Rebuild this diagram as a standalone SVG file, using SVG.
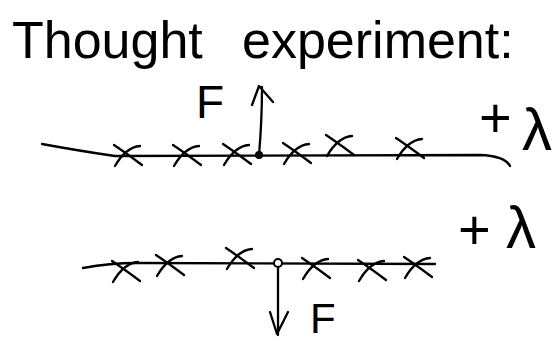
<svg xmlns="http://www.w3.org/2000/svg" xmlns:xlink="http://www.w3.org/1999/xlink" width="558" height="341" viewBox="0 0 558 341">
<style>
.ink{fill:none;stroke:#000;stroke-width:2.3;stroke-linecap:round;stroke-linejoin:round}
.t{font-family:"Liberation Sans","DejaVu Sans",sans-serif;fill:#000}
</style>
<defs>
<path id="cross" class="ink" d="M-14,-10 Q-2,-2 14,10 M12,-9 Q-2,-8 -13,11"/>
</defs>
<rect width="558" height="341" fill="#fff"/>
<g id="title">
<text class="t" font-size="52" y="58"><tspan x="12">Thought</tspan> <tspan x="242">experiment:</tspan></text>
</g>
<g id="upper-wire">
<path class="ink" d="M42,144 Q80,151 115,156 L480,155 Q505,156 510,166"/>
<use xlink:href="#cross" x="128" y="155"/>
<use xlink:href="#cross" x="187" y="155"/>
<use xlink:href="#cross" x="237" y="154"/>
<use xlink:href="#cross" x="297" y="153"/>
<use xlink:href="#cross" x="340" y="145"/>
<use xlink:href="#cross" x="410" y="148"/>
<circle cx="259" cy="155" r="4" fill="#000"/>
<path class="ink" d="M259,155 Q262,120 262,87 M252,105 L259,86 L273,102"/>
<text class="t" font-size="46" x="196" y="118">F</text>
<text class="t" font-size="56" x="479" y="137">+</text>
<text class="t" font-size="60" x="522" y="150">λ</text>
</g>
<g id="lower-wire">
<path class="ink" d="M83,268 Q110,263 137,263 L435,264"/>
<use xlink:href="#cross" x="126" y="271"/>
<use xlink:href="#cross" x="170" y="265"/>
<use xlink:href="#cross" x="240" y="258"/>
<use xlink:href="#cross" x="316" y="268"/>
<use xlink:href="#cross" x="372" y="270"/>
<use xlink:href="#cross" x="418" y="267"/>
<circle cx="278" cy="263" r="4" fill="#fff" stroke="#000" stroke-width="2"/>
<path class="ink" d="M278,267 L278,335 M270,312 L277,334 L288,312"/>
<text class="t" font-size="42" x="310" y="333">F</text>
<text class="t" font-size="56" x="458" y="249">+</text>
<text class="t" font-size="60" x="506" y="248">λ</text>
</g>
</svg>
